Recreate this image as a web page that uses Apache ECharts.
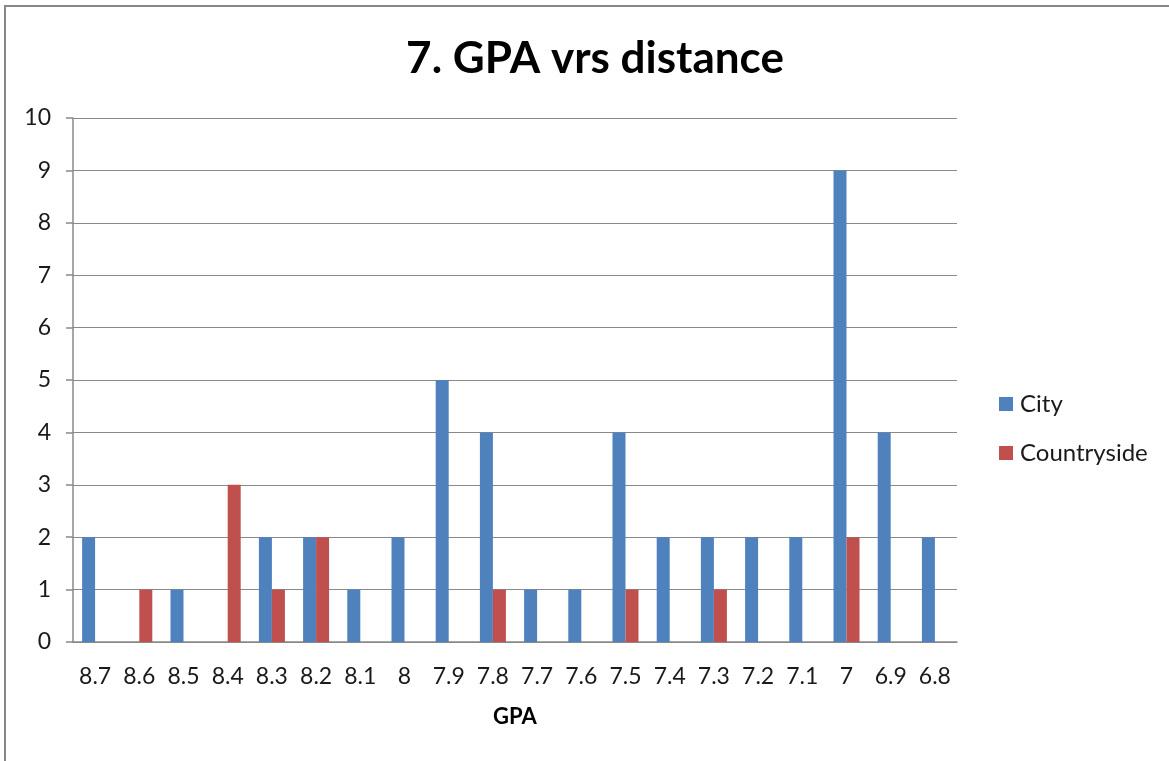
<!DOCTYPE html>
<html>
<head>
<meta charset="utf-8">
<style>
  html, body { margin: 0; padding: 0; background: #ffffff; }
  #chart { width: 1169px; height: 761px; }
</style>
<script src="https://cdn.jsdelivr.net/npm/echarts@6/dist/echarts.min.js"></script>
</head>
<body>
<div id="chart"></div>
<script>
// GPA buckets, highest first
const gpaCategories = ['8.7', '8.6', '8.5', '8.4', '8.3', '8.2', '8.1', '8', '7.9', '7.8',
                       '7.7', '7.6', '7.5', '7.4', '7.3', '7.2', '7.1', '7', '6.9', '6.8'];
// number of students per GPA bucket
const cityCounts        = [2, 0, 1, 0, 2, 2, 1, 2, 5, 4, 1, 1, 4, 2, 2, 2, 2, 9, 4, 2];
const countrysideCounts = [0, 1, 0, 3, 1, 2, 0, 0, 0, 1, 0, 0, 1, 0, 1, 0, 0, 2, 0, 0];
const yTicks = { min: 0, max: 10, interval: 1 };

const FONT = 'Lato, "Open Sans", sans-serif';
const chart = echarts.init(document.getElementById('chart'), null, { renderer: 'canvas' });

chart.setOption({
  backgroundColor: '#ffffff',
  animation: false,
  graphic: [{
    type: 'rect',
    shape: { x: 5, y: 6, width: 1180, height: 780 },
    style: { fill: 'none', stroke: '#878787', lineWidth: 2 },
    silent: true
  }],
  title: {
    text: '7. GPA vrs distance',
    left: 590,
    textAlign: 'center',
    top: 32,
    textStyle: { fontFamily: FONT, fontSize: 44, fontWeight: 'bold', color: '#000000' }
  },
  legend: {
    orient: 'vertical',
    left: 994,
    top: 387,
    itemWidth: 14,
    itemHeight: 14,
    itemGap: 25,
    icon: 'rect',
    textStyle: { fontFamily: FONT, fontSize: 24, color: '#1a1a1a', padding: [0, 0, 0, 2] },
    data: ['City', 'Countryside']
  },
  grid: { left: 73, right: 212, top: 118, bottom: 119, containLabel: false },
  xAxis: {
    type: 'category',
    data: gpaCategories,
    name: 'GPA',
    nameLocation: 'middle',
    nameGap: 64,
    nameTextStyle: { fontFamily: FONT, fontSize: 22, fontWeight: 'bold', color: '#000000' },
    axisLine: { show: true, lineStyle: { color: '#898989', width: 1.5 } },
    axisTick: { show: false },
    axisLabel: { fontFamily: FONT, fontSize: 23, color: '#1a1a1a', margin: 23, interval: 0 },
    splitLine: { show: false }
  },
  yAxis: {
    type: 'value',
    min: yTicks.min,
    max: yTicks.max,
    interval: yTicks.interval,
    axisLine: { show: true, lineStyle: { color: '#898989', width: 1.5 } },
    axisTick: { show: true, length: 7, lineStyle: { color: '#898989', width: 1.5 } },
    axisLabel: { fontFamily: FONT, fontSize: 23, color: '#1a1a1a', margin: 22 },
    splitLine: { show: true, lineStyle: { color: '#898989', width: 1.2 } }
  },
  series: [
    {
      name: 'City',
      type: 'bar',
      data: cityCounts,
      barWidth: 13,
      barGap: '0%',
      itemStyle: { color: '#4F81BD' }
    },
    {
      name: 'Countryside',
      type: 'bar',
      data: countrysideCounts,
      barWidth: 13,
      barGap: '0%',
      itemStyle: { color: '#C0504D' }
    }
  ]
});
</script>
</body>
</html>
